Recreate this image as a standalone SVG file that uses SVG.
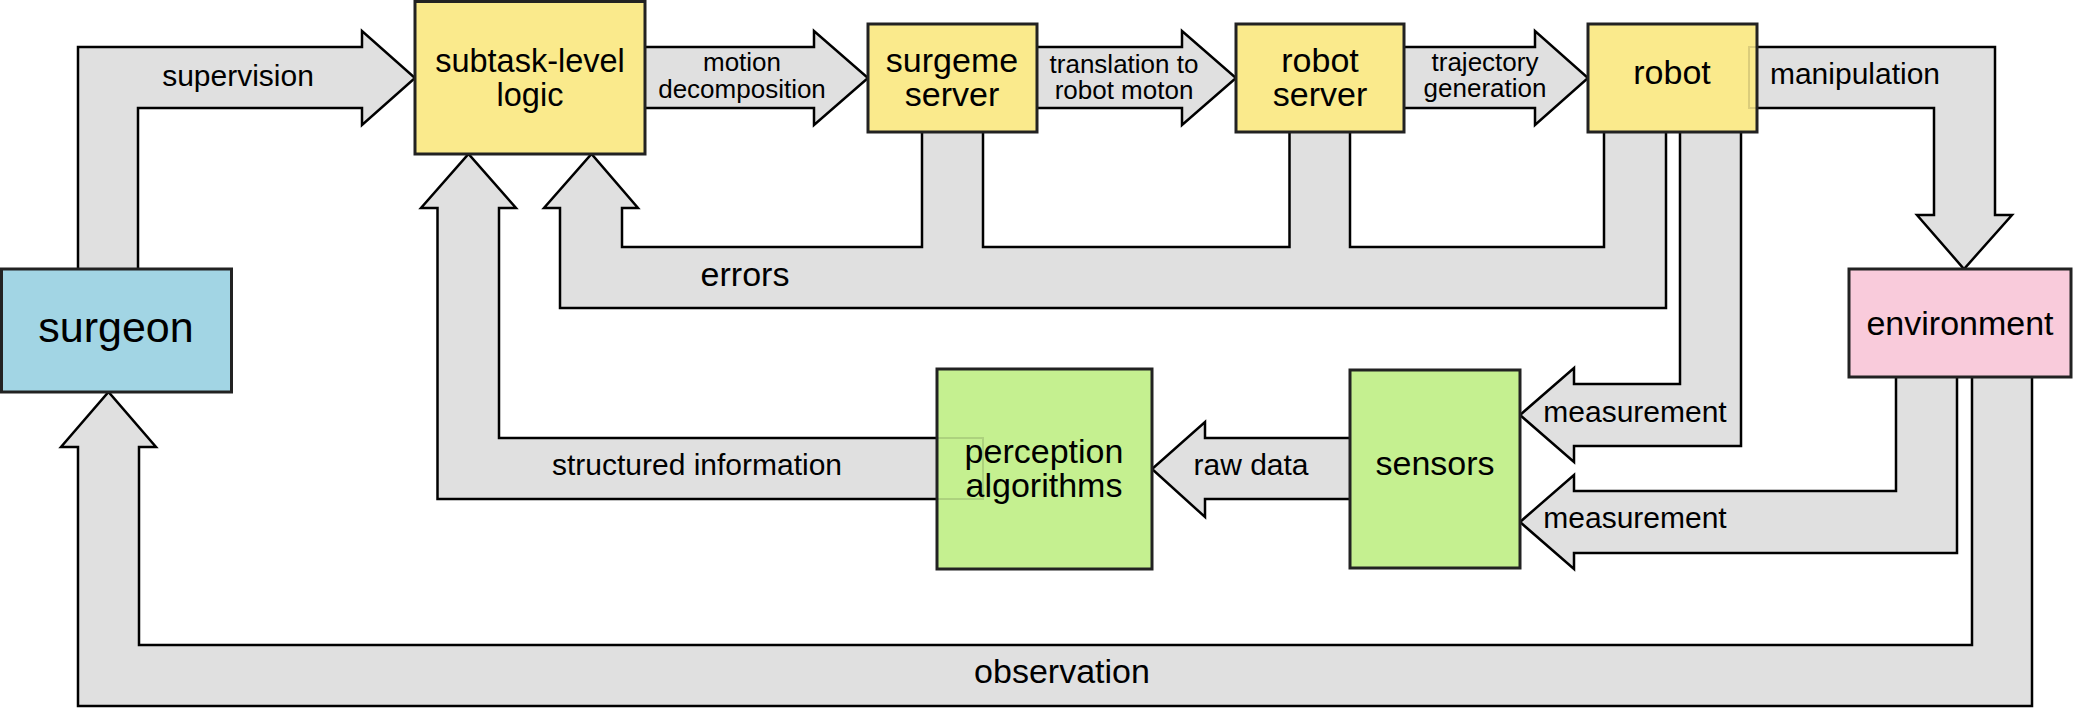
<svg xmlns="http://www.w3.org/2000/svg" width="2073" height="708" viewBox="0 0 2073 708">
<style>
.arrow{fill:#e0e0e0;stroke:#000;stroke-width:2.5;stroke-linejoin:miter}
.ghost{fill:none;stroke:#000;stroke-opacity:0.12;stroke-width:2}
.box{stroke:#222;stroke-width:3}
.yellow{fill:#faea8c}
.blue{fill:#a2d5e4}
.green{fill:#c5f090}
.pink{fill:#f9cbdb}
text{font-family:"Liberation Sans",Arial,sans-serif;fill:#000;text-anchor:middle}
.big{font-size:34px}
.mid{font-size:32.5px}
.huge{font-size:43px}
.lbl{font-size:30px}
.lbl34{font-size:34px}
.small{font-size:26px}
</style>
<rect width="2073" height="708" fill="#fff"/>
<g id="connectors">
  <path id="supervision" class="arrow" d="M78 280 L78 47 L362 47 L362 31 L415 78 L362 125 L362 108 L138 108 L138 280 Z"/>
  <path id="motion-decomposition" class="arrow" d="M640 47 L814 47 L814 31 L868 78 L814 125 L814 108 L640 108 Z"/>
  <path id="translation" class="arrow" d="M1030 47 L1182 47 L1182 31 L1236 78 L1182 125 L1182 108 L1030 108 Z"/>
  <path id="trajectory" class="arrow" d="M1398 47 L1535 47 L1535 31 L1588 78 L1535 125 L1535 108 L1398 108 Z"/>
  <path id="manipulation" class="arrow" d="M1749 47 L1995 47 L1995 215 L2012 215 L1964 269 L1917 215 L1934 215 L1934 108 L1749 108 Z"/>
  <path id="errors" class="arrow" d="M1604 125 L1604 247 L1350 247 L1350 125 L1289.5 125 L1289.5 247 L983 247 L983 125 L922 125 L922 247 L622 247 L622 208 L638 208 L591.5 154 L544 208 L560 208 L560 308 L1666 308 L1666 125 Z"/>
  <path id="structured-information" class="arrow" d="M983 438 L499 438 L499 208 L516 208 L468.5 154 L421 208 L437.5 208 L437.5 499 L983 499 Z"/>
  <path id="raw-data" class="arrow" d="M1358 438 L1205 438 L1205 422 L1152 469 L1205 517 L1205 499 L1358 499 Z"/>
  <path id="measurement-robot" class="arrow" d="M1680 125 L1680 384 L1574 384 L1574 368 L1520 415 L1574 462 L1574 446 L1741 446 L1741 125 Z"/>
  <path id="measurement-env" class="arrow" d="M1896 370 L1896 491 L1574 491 L1574 475 L1520 522 L1574 569 L1574 553 L1957 553 L1957 370 Z"/>
  <path id="observation" class="arrow" d="M1972 370 L1972 645 L139 645 L139 447 L156 447 L108.5 392 L61 447 L78 447 L78 706 L2032 706 L2032 370 Z"/>
  <text class="lbl" x="238" y="86">supervision</text>
  <text class="small" x="742" y="71">motion</text>
  <text class="small" x="742" y="98">decomposition</text>
  <text class="small" x="1124" y="73">translation to</text>
  <text class="small" x="1124" y="99">robot moton</text>
  <text class="small" x="1485" y="71">trajectory</text>
  <text class="small" x="1485" y="97">generation</text>
  <text class="lbl" x="1855" y="84">manipulation</text>
  <text class="lbl34" x="745" y="286">errors</text>
  <text class="lbl" x="697" y="475">structured information</text>
  <text class="lbl" x="1251" y="475">raw data</text>
  <text class="lbl" x="1635" y="422">measurement</text>
  <text class="lbl" x="1635" y="528">measurement</text>
  <text class="lbl34" x="1062" y="683">observation</text>
</g>
<g id="surgeon">
  <rect class="box blue" x="1.5" y="269" width="230" height="123"/>
  <text class="huge" x="116" y="342">surgeon</text>
</g>
<g id="subtask-level-logic">
  <rect class="box yellow" x="415" y="1.5" width="230" height="152.5"/>
  <text class="mid" x="530" y="72">subtask-level</text>
  <text class="mid" x="530" y="106">logic</text>
</g>
<g id="surgeme-server">
  <rect class="box yellow" x="868" y="24" width="169" height="108"/>
  <text class="big" x="952" y="72">surgeme</text>
  <text class="big" x="952" y="106">server</text>
</g>
<g id="robot-server">
  <rect class="box yellow" x="1236" y="24" width="168" height="108"/>
  <text class="big" x="1320" y="72">robot</text>
  <text class="big" x="1320" y="106">server</text>
</g>
<g id="robot">
  <rect class="box yellow" x="1588" y="24" width="169" height="108"/>
  <path class="ghost" d="M1756 47 H1749 V108 H1756"/>
  <text class="big" x="1672" y="84">robot</text>
</g>
<g id="environment">
  <rect class="box pink" x="1849" y="269" width="222" height="108"/>
  <text class="big" x="1960" y="335">environment</text>
</g>
<g id="sensors">
  <rect class="box green" x="1350" y="370" width="170" height="198"/>
  <text class="big" x="1435" y="475">sensors</text>
</g>
<g id="perception-algorithms">
  <rect class="box green" x="937" y="369" width="215" height="200"/>
  <path class="ghost" d="M938 438 H983 V499 H938"/>
  <text class="big" x="1044" y="463">perception</text>
  <text class="big" x="1044" y="497">algorithms</text>
</g>
</svg>
